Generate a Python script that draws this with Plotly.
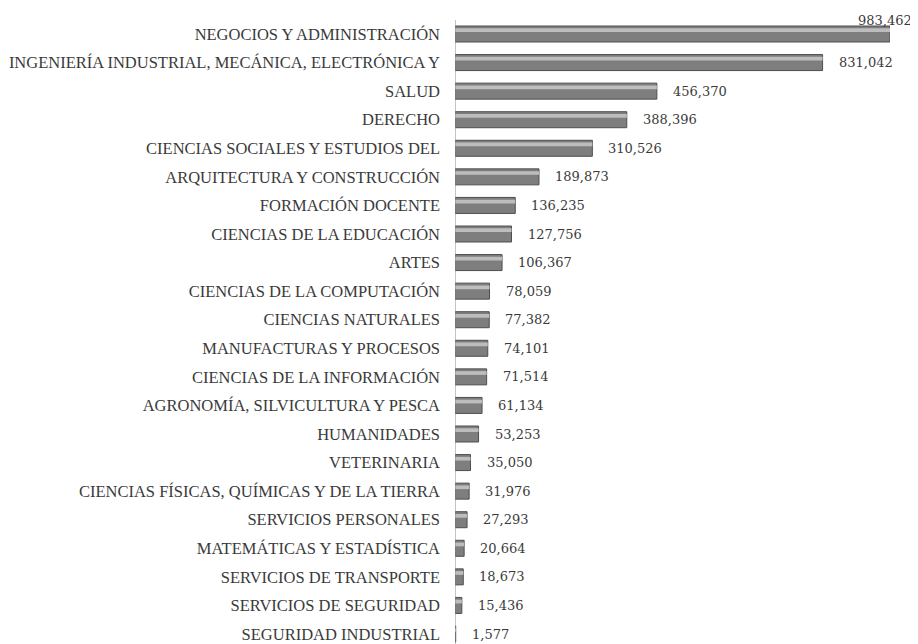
import plotly.graph_objects as go

categories = [
    "NEGOCIOS Y ADMINISTRACIÓN",
    "INGENIERÍA INDUSTRIAL, MECÁNICA, ELECTRÓNICA Y",
    "SALUD",
    "DERECHO",
    "CIENCIAS SOCIALES Y ESTUDIOS DEL",
    "ARQUITECTURA Y CONSTRUCCIÓN",
    "FORMACIÓN DOCENTE",
    "CIENCIAS DE LA EDUCACIÓN",
    "ARTES",
    "CIENCIAS DE LA COMPUTACIÓN",
    "CIENCIAS NATURALES",
    "MANUFACTURAS Y PROCESOS",
    "CIENCIAS DE LA INFORMACIÓN",
    "AGRONOMÍA, SILVICULTURA Y PESCA",
    "HUMANIDADES",
    "VETERINARIA",
    "CIENCIAS FÍSICAS, QUÍMICAS Y DE LA TIERRA",
    "SERVICIOS PERSONALES",
    "MATEMÁTICAS Y ESTADÍSTICA",
    "SERVICIOS DE TRANSPORTE",
    "SERVICIOS DE SEGURIDAD",
    "SEGURIDAD INDUSTRIAL",
]
values = [983462, 831042, 456370, 388396, 310526, 189873, 136235, 127756,
          106367, 78059, 77382, 74101, 71514, 61134, 53253, 35050, 31976,
          27293, 20664, 18673, 15436, 1577]

fig = go.Figure()
fig.add_trace(go.Bar(
    x=values, y=categories, orientation="h", width=0.56,
    marker=dict(color="#7e7e7e", line=dict(color="#4e4e4e", width=1)),
    hoverinfo="x+y", showlegend=False,
))
fig.add_trace(go.Bar(
    x=values, y=categories, orientation="h", width=0.13, offset=-0.2,
    marker=dict(color="#bdbdbd", line=dict(width=0)),
    hoverinfo="skip", showlegend=False,
))

vmax = max(values)
for c, v in zip(categories, values):
    label = f"{v:,}"
    if v == vmax:
        fig.add_annotation(x=v, y=c, text=label, showarrow=False,
                           xanchor="right", xshift=24, yshift=14,
                           font=dict(family="DejaVu Serif", size=13, color="#3a3a3a"))
    else:
        fig.add_annotation(x=v, y=c, text=label, showarrow=False,
                           xanchor="left", xshift=14,
                           font=dict(family="DejaVu Serif", size=13, color="#3a3a3a"))

# page body has an 8px margin, so the figure is drawn 8px smaller and offset
fig.update_layout(
    width=910, height=636,
    margin=dict(l=447, r=28, t=12, b=0),
    paper_bgcolor="white", plot_bgcolor="white",
    barmode="overlay",
    font=dict(family="Liberation Serif", size=16.5, color="#3a3a3a"),
)
fig.update_xaxes(range=[0, vmax], visible=False, showgrid=False)
fig.update_yaxes(
    type="category", categoryorder="array", categoryarray=categories,
    range=[21.35, -0.49], showgrid=False, zeroline=False,
    showline=False, ticks="", ticklabelstandoff=14, automargin=False,
)
fig.add_shape(type="line", xref="x", yref="paper", x0=0, x1=0, y0=0, y1=1,
              line=dict(color="#8a8a8a", width=1))

fig.write_html("out.html")
